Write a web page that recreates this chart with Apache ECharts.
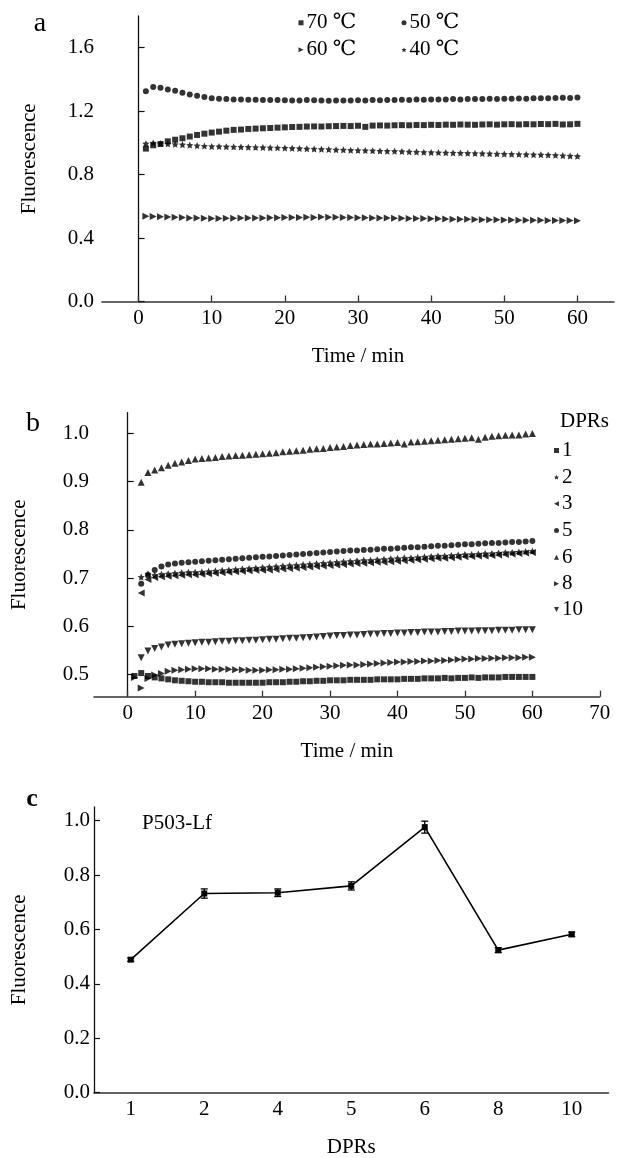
<!DOCTYPE html>
<html>
<head>
<meta charset="utf-8">
<script src="https://cdn.jsdelivr.net/npm/echarts@6/dist/echarts.min.js"></script>
<style>
  html, body { margin: 0; padding: 0; background: #fff; }
  #chart { width: 617px; height: 1158px; }
</style>
</head>
<body>
<div id="chart"></div>
<script>
// ---------- Panel a: fluorescence vs. time at four temperatures ----------
const timeA = [1,2,3,4,5,6,7,8,9,10,11,12,13,14,15,16,17,18,19,20,21,22,23,24,25,26,27,28,29,30,
  31,32,33,34,35,36,37,38,39,40,41,42,43,44,45,46,47,48,49,50,51,52,53,54,55,56,57,58,59,60];
const temp70 = [0.964,0.985,0.993,1.010,1.020,1.029,1.040,1.050,1.058,1.065,
  1.071,1.077,1.082,1.084,1.088,1.090,1.092,1.094,1.096,1.098,
  1.100,1.101,1.103,1.104,1.103,1.105,1.106,1.107,1.106,1.108,
  1.101,1.109,1.110,1.109,1.111,1.112,1.111,1.113,1.112,1.114,
  1.113,1.115,1.114,1.116,1.115,1.114,1.116,1.117,1.115,1.117,
  1.118,1.116,1.118,1.117,1.119,1.118,1.120,1.116,1.117,1.120];
const temp50 = [1.326,1.353,1.347,1.336,1.328,1.316,1.305,1.297,1.290,1.282,
  1.278,1.276,1.274,1.273,1.272,1.272,1.271,1.270,1.270,1.269,
  1.268,1.268,1.270,1.269,1.268,1.266,1.268,1.267,1.268,1.269,
  1.268,1.270,1.269,1.271,1.270,1.272,1.271,1.273,1.272,1.274,
  1.273,1.274,1.276,1.274,1.276,1.277,1.276,1.278,1.277,1.279,
  1.278,1.280,1.279,1.281,1.282,1.281,1.283,1.284,1.283,1.286];
const temp60 = [0.537,0.536,0.535,0.533,0.531,0.529,0.527,0.526,0.525,0.524,
  0.524,0.525,0.525,0.526,0.526,0.527,0.527,0.528,0.528,0.529,
  0.529,0.530,0.531,0.530,0.532,0.531,0.531,0.530,0.529,0.528,
  0.528,0.527,0.527,0.526,0.525,0.525,0.524,0.523,0.523,0.522,
  0.521,0.520,0.519,0.519,0.518,0.517,0.516,0.516,0.515,0.514,
  0.514,0.513,0.513,0.512,0.512,0.511,0.511,0.510,0.510,0.509];
const temp40 = [0.995,1.000,0.996,0.994,0.991,0.989,0.986,0.983,0.980,
  0.978,0.977,0.976,0.975,0.974,0.973,0.972,0.971,0.970,0.969,
  0.968,0.966,0.965,0.963,0.962,0.960,0.959,0.957,0.956,0.954,
  0.953,0.952,0.951,0.949,0.948,0.947,0.946,0.944,0.943,0.941,
  0.940,0.939,0.938,0.937,0.936,0.935,0.934,0.933,0.932,0.931,
  0.930,0.929,0.928,0.927,0.926,0.925,0.924,0.922,0.920,0.918,0.916];
const ticksTimeA = [0,10,20,30,40,50,60];
const ticksFluorA = [0,0.4,0.8,1.2,1.6];

// ---------- Panel b: fluorescence vs. time for each DPR ----------
const timeB = timeA;
// series that start at 2 min carry null at 1 min
const dpr1 = [0.497,0.503,0.497,0.494,0.492,0.490,0.488,0.487,0.486,0.485,
  0.485,0.484,0.484,0.484,0.483,0.483,0.483,0.483,0.483,0.483,
  0.484,0.484,0.484,0.485,0.485,0.486,0.486,0.487,0.487,0.488,
  0.488,0.488,0.489,0.489,0.489,0.489,0.490,0.490,0.490,0.490,
  0.491,0.491,0.491,0.492,0.492,0.492,0.493,0.492,0.493,0.493,
  0.494,0.493,0.494,0.494,0.494,0.495,0.495,0.495,0.495,0.495];
const dpr2 = [null,0.702,0.709,0.706,0.708,0.709,0.710,0.711,0.712,0.712,
  0.713,0.714,0.715,0.716,0.717,0.718,0.719,0.720,0.721,0.722,
  0.723,0.724,0.725,0.726,0.727,0.728,0.729,0.730,0.731,0.732,
  0.733,0.734,0.735,0.736,0.737,0.737,0.738,0.739,0.740,0.741,
  0.742,0.742,0.743,0.744,0.745,0.746,0.746,0.747,0.748,0.749,
  0.749,0.750,0.751,0.751,0.752,0.753,0.753,0.754,0.755,0.756];
const dpr3 = [null,0.669,0.697,0.701,0.703,0.704,0.705,0.706,0.707,0.707,
  0.708,0.709,0.710,0.711,0.712,0.713,0.714,0.715,0.716,0.716,
  0.717,0.718,0.719,0.720,0.721,0.722,0.723,0.724,0.725,0.726,
  0.727,0.728,0.729,0.730,0.731,0.732,0.733,0.733,0.734,0.735,
  0.736,0.737,0.738,0.739,0.740,0.741,0.741,0.742,0.743,0.744,
  0.745,0.746,0.746,0.747,0.748,0.749,0.750,0.751,0.752,0.753];
const dpr5 = [null,0.688,0.706,0.717,0.724,0.728,0.730,0.732,0.733,0.734,
  0.735,0.736,0.737,0.738,0.739,0.740,0.741,0.742,0.743,0.744,
  0.745,0.746,0.747,0.748,0.749,0.750,0.751,0.752,0.753,0.754,
  0.755,0.756,0.757,0.757,0.758,0.759,0.760,0.761,0.761,0.762,
  0.763,0.764,0.764,0.765,0.766,0.767,0.767,0.768,0.769,0.770,
  0.770,0.771,0.772,0.773,0.773,0.774,0.775,0.775,0.776,0.777];
const dpr6 = [null,0.899,0.919,0.924,0.929,0.934,0.938,0.941,0.944,0.947,
  0.948,0.949,0.950,0.952,0.953,0.954,0.955,0.956,0.957,0.958,
  0.959,0.960,0.962,0.963,0.964,0.965,0.967,0.968,0.969,0.971,
  0.972,0.973,0.975,0.976,0.977,0.978,0.978,0.979,0.980,0.981,
  0.978,0.982,0.983,0.984,0.985,0.986,0.987,0.988,0.989,0.990,
  0.991,0.988,0.992,0.994,0.995,0.996,0.997,0.997,0.999,1.000];
const dpr8 = [0.494,0.472,0.492,0.499,0.502,0.507,0.509,0.510,0.511,0.512,
  0.512,0.512,0.511,0.511,0.511,0.510,0.510,0.509,0.509,0.509,
  0.510,0.510,0.511,0.511,0.512,0.513,0.514,0.515,0.516,0.517,
  0.518,0.519,0.520,0.520,0.521,0.522,0.523,0.524,0.525,0.526,
  0.526,0.527,0.527,0.528,0.528,0.529,0.529,0.530,0.531,0.532,
  0.532,0.533,0.533,0.534,0.534,0.535,0.535,0.535,0.536,0.536];
const dpr10 = [null,0.535,0.549,0.554,0.557,0.561,0.563,0.564,0.565,0.566,
  0.567,0.567,0.568,0.569,0.569,0.570,0.570,0.571,0.571,0.572,
  0.573,0.573,0.574,0.575,0.575,0.576,0.577,0.578,0.579,0.580,
  0.581,0.581,0.582,0.582,0.583,0.584,0.584,0.585,0.585,0.586,
  0.586,0.587,0.587,0.588,0.588,0.588,0.589,0.589,0.590,0.590,
  0.590,0.591,0.591,0.591,0.592,0.592,0.592,0.593,0.593,0.593];
const ticksTimeB = [0,10,20,30,40,50,60,70];
const ticksFluorB = [0.5,0.6,0.7,0.8,0.9,1.0];

// ---------- Panel c: fluorescence per DPR (mean ± error) ----------
const dprCategories = ['1','2','4','5','6','8','10'];
const fluorC = [0.489,0.732,0.735,0.760,0.976,0.524,0.582];
const errorC = [0.006,0.017,0.014,0.015,0.022,0.009,0.008];
const ticksFluorC = [0,0.2,0.4,0.6,0.8,1.0];

// ---------- styling ----------
const FONT = '"Liberation Serif", "Times New Roman", "DejaVu Serif", serif';
const FS = 21;
const SYM = {
  square: 'rect',
  circle: 'circle',
  up: 'triangle',
  right: 'path://M0,0 L10,5 L0,10 Z',
  left: 'path://M10,0 L0,5 L10,10 Z',
  down: 'path://M0,0 L10,0 L5,10 Z',
  star: 'path://M0,-10 L2.9,-4 9.5,-3.1 4.7,1.5 5.9,8.1 0,5 -5.9,8.1 -4.7,1.5 -9.5,-3.1 -2.9,-4 Z'
};
const SIZE = { rect: 6, circle: 6, triangle: 7 };
function symSize(s) {
  if (s === SYM.square) return 6;
  if (s === SYM.circle) return 6;
  if (s === SYM.star) return 7;
  return 7;
}

function pairs(xs, ys) {
  const out = [];
  xs.forEach((x, i) => { if (ys[i] !== null && ys[i] !== undefined) out.push([x, ys[i]]); });
  return out;
}
const fmt1 = v => Number(v).toFixed(1);

function xAxisCfg(gridIndex, min, max, ticks, name) {
  return {
    type: 'value', gridIndex, min, max,
    name, nameLocation: 'middle', nameGap: 44,
    nameTextStyle: { fontFamily: FONT, fontSize: FS, color: '#000' },
    axisLine: { lineStyle: { color: '#333', width: 1.6 } },
    axisTick: { inside: true, length: 6, customValues: ticks, lineStyle: { color: '#333', width: 1.3 } },
    axisLabel: { customValues: ticks, margin: 6, fontFamily: FONT, fontSize: FS, color: '#000' },
    splitLine: { show: false }
  };
}
function yAxisCfg(gridIndex, min, max, ticks, nameGap, labelMargin) {
  return {
    type: 'value', gridIndex, min, max,
    name: 'Fluorescence', nameLocation: 'middle', nameGap,
    nameTextStyle: { fontFamily: FONT, fontSize: FS, color: '#000' },
    axisLine: { show: true, lineStyle: { color: '#111', width: 1.3 } },
    axisTick: { show: true, inside: true, length: 6, customValues: ticks, lineStyle: { color: '#111', width: 1.2 } },
    axisLabel: { customValues: ticks, formatter: fmt1, margin: labelMargin, fontFamily: FONT, fontSize: FS, color: '#000' },
    splitLine: { show: false }
  };
}
function scatter(name, xi, yi, data, symbol) {
  return {
    type: 'scatter', name, xAxisIndex: xi, yAxisIndex: yi, data,
    symbol, symbolSize: symSize(symbol), itemStyle: { color: '#000' },
    emphasis: { disabled: true }, animation: false
  };
}
function legendItem(name, left, top, icon) {
  return {
    data: [{ name, icon }], left, top, padding: 0,
    orient: 'vertical', itemWidth: 5, itemHeight: 5, itemGap: 0,
    selectedMode: false,
    textStyle: { fontFamily: FONT, fontSize: FS, lineHeight: 20, color: '#000', padding: [0, 0, 0, -2] }
  };
}

const legendsA = [
  legendItem('70 ℃', 298.5, 12.3, SYM.square),
  legendItem('50 ℃', 401.5, 12.3, SYM.circle),
  legendItem('60 ℃', 298.5, 39.3, SYM.right),
  legendItem('40 ℃', 401.5, 39.3, SYM.star)
];
const dprNames = ['1','2','3','5','6','8','10'];
const dprSyms = [SYM.square, SYM.star, SYM.left, SYM.circle, SYM.up, SYM.right, SYM.down];
const dprSeries = [dpr1, dpr2, dpr3, dpr5, dpr6, dpr8, dpr10];
const legendRowsB = [450, 476.7, 503.3, 530, 556.7, 583.3, 609];
const legendsB = dprNames.map((n, i) => legendItem(n, 554, legendRowsB[i] - 10, dprSyms[i]));

const option = {
  backgroundColor: '#fff',
  animation: false,
  grid: [
    { left: 102, top: 16, right: 3, bottom: 856.5, containLabel: false, outerBoundsMode: 'none' },
    { left: 94, top: 412.7, right: 17.2, bottom: 461.3, containLabel: false, outerBoundsMode: 'none' },
    { left: 94, top: 807, right: 8.5, bottom: 65.3, containLabel: false, outerBoundsMode: 'none' }
  ],
  xAxis: [
    xAxisCfg(0, -5, 65, ticksTimeA, 'Time / min'),
    xAxisCfg(1, -5, 70, ticksTimeB, 'Time / min'),
    {
      type: 'category', gridIndex: 2, data: dprCategories, boundaryGap: true,
      name: 'DPRs', nameLocation: 'middle', nameGap: 44,
      nameTextStyle: { fontFamily: FONT, fontSize: FS, color: '#000' },
      axisLine: { lineStyle: { color: '#333', width: 1.6 } },
      axisTick: { inside: true, length: 7, alignWithLabel: true, lineStyle: { color: '#333', width: 1.3 } },
      axisLabel: { margin: 6, fontFamily: FONT, fontSize: FS, color: '#000' },
      splitLine: { show: false }
    }
  ],
  yAxis: [
    yAxisCfg(0, 0, 1.8, ticksFluorA, 62, 8),
    yAxisCfg(1, 0.454, 1.043, ticksFluorB, 64, 5),
    yAxisCfg(2, 0, 1.05, ticksFluorC, 64, 4)
  ],
  legend: legendsA.concat(legendsB),
  series: [
    scatter('70 ℃', 0, 0, pairs(timeA, temp70), SYM.square),
    scatter('50 ℃', 0, 0, pairs(timeA, temp50), SYM.circle),
    scatter('60 ℃', 0, 0, pairs(timeA, temp60), SYM.right),
    scatter('40 ℃', 0, 0, pairs(timeA, temp40), SYM.star)
  ].concat(dprNames.map((n, i) =>
    scatter(n, 1, 1, pairs(timeB, dprSeries[i]), dprSyms[i])
  )).concat([
    {
      type: 'line', name: 'P503-Lf', xAxisIndex: 2, yAxisIndex: 2,
      data: fluorC, symbol: 'rect', symbolSize: 6, showSymbol: true,
      lineStyle: { color: '#000', width: 1.6 }, itemStyle: { color: '#000' },
      emphasis: { disabled: true }, animation: false
    },
    {
      type: 'custom', name: 'error', xAxisIndex: 2, yAxisIndex: 2,
      data: fluorC.map((v, i) => [i, v, errorC[i]]),
      renderItem: function (params, api) {
        const i = api.value(0), v = api.value(1), e = api.value(2);
        const hi = api.coord([i, v + e]);
        const lo = api.coord([i, v - e]);
        const cap = 3.5;
        const st = { stroke: '#000', lineWidth: 1.3 };
        return {
          type: 'group',
          children: [
            { type: 'line', shape: { x1: hi[0], y1: hi[1], x2: lo[0], y2: lo[1] }, style: st },
            { type: 'line', shape: { x1: hi[0] - cap, y1: hi[1], x2: hi[0] + cap, y2: hi[1] }, style: st },
            { type: 'line', shape: { x1: lo[0] - cap, y1: lo[1], x2: lo[0] + cap, y2: lo[1] }, style: st }
          ]
        };
      },
      z: 3, animation: false
    }
  ]),
  graphic: [
    { type: 'text', x: 40, y: 24, style: { text: 'a', fontFamily: FONT, fontSize: 28, fill: '#000', align: 'center', verticalAlign: 'middle' } },
    { type: 'text', x: 33, y: 424, style: { text: 'b', fontFamily: FONT, fontSize: 28, fill: '#000', align: 'center', verticalAlign: 'middle' } },
    { type: 'text', x: 32, y: 799, style: { text: 'c', fontFamily: FONT, fontSize: 26, fontWeight: 'bold', fill: '#000', align: 'center', verticalAlign: 'middle' } },
    { type: 'text', x: 142, y: 823, style: { text: 'P503-Lf', fontFamily: FONT, fontSize: FS, fill: '#000', align: 'left', verticalAlign: 'middle' } },
    { type: 'text', x: 560, y: 421, style: { text: 'DPRs', fontFamily: FONT, fontSize: FS, fill: '#000', align: 'left', verticalAlign: 'middle' } }
  ]
};

const chart = echarts.init(document.getElementById('chart'), null, { renderer: 'canvas' });
chart.setOption(option);
</script>
</body>
</html>
